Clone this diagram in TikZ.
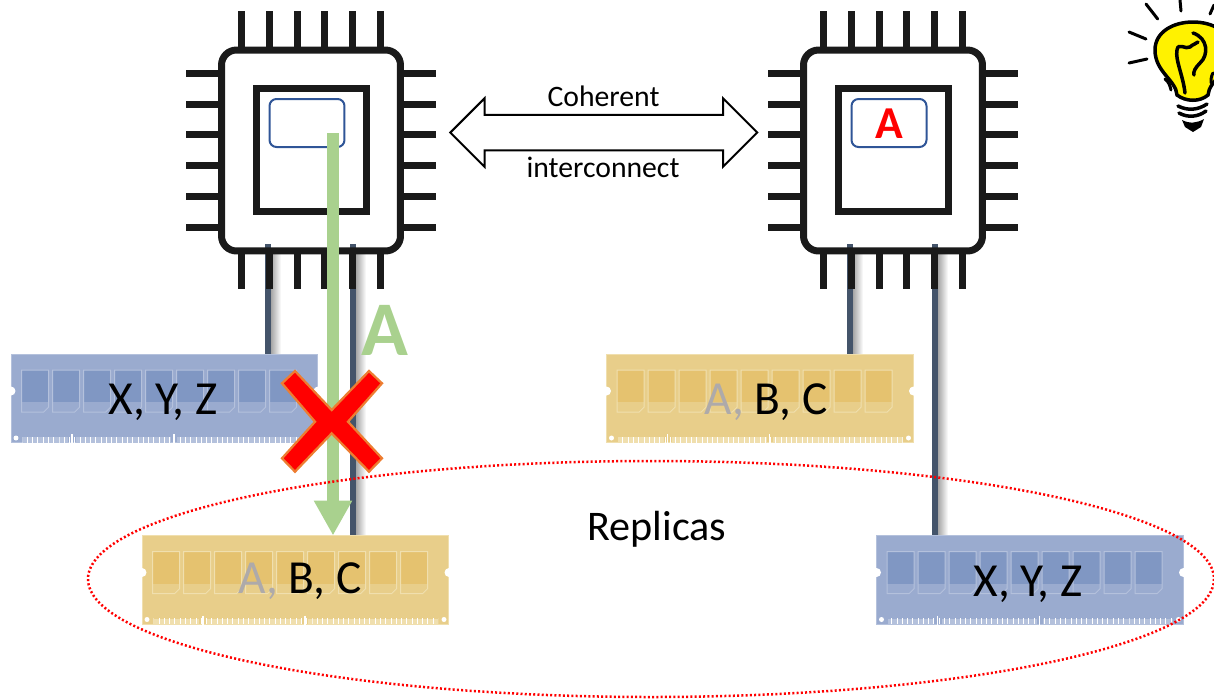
\documentclass[tikz,border=0pt]{standalone}
\usepackage{fontspec}
\setmainfont{Carlito}
\usepackage{tikz}
\usetikzlibrary{arrows.meta,backgrounds,shapes.arrows,patterns}
\definecolor{inkblack}{HTML}{1A1A1A}
\definecolor{cacheblue}{HTML}{2F5597}
\definecolor{busblue}{HTML}{44546A}
\definecolor{movegreen}{HTML}{A9D18E}
\definecolor{fadegrey}{HTML}{AEAAAA}
\definecolor{crossline}{HTML}{ED7D31}
\definecolor{bulbyellow}{HTML}{FFF200}
\definecolor{ramblue}{HTML}{9AABCF}
\definecolor{ramblueD}{HTML}{8097C3}
\definecolor{ramblueL}{HTML}{B4C1DC}
\definecolor{ramgold}{HTML}{E8CE8A}
\definecolor{ramgoldD}{HTML}{E5C26F}
\definecolor{ramgoldL}{HTML}{F0DFAE}
\tikzset{
    pin/.style={draw=inkblack,line width=.14cm},
    cpubody/.style={draw=inkblack,line width=.14cm,rounded corners=.3cm,minimum width=3.58cm,minimum height=4.02cm,inner sep=0,outer sep=0},
    cpudie/.style={draw=inkblack,line width=.14cm,minimum width=2.21cm,minimum height=2.47cm,inner sep=0,outer sep=0},
    cpucache/.style={draw=cacheblue,line width=.04cm,rounded corners=.14cm,minimum width=1.5cm,minimum height=.96cm,inner sep=0},
    bus/.style={draw=busblue,line width=.12cm},
    moved/.style={draw=movegreen,line width=.24cm,-{Triangle[length=.7cm,width=.72cm]}},
    ramstick/.style={anchor=north west,line width=.02cm,minimum width=6.14cm,minimum height=1.78cm,inner sep=0,outer sep=0},
    bigtext/.style={font=\fontsize{24}{28}\selectfont},
    ramtext/.style={font=\fontsize{27}{31}\selectfont},
    smalltext/.style={font=\fontsize{16.9}{20}\selectfont},
    ray/.style={draw=black,line width=.06cm,line cap=round}
}
% a cpu with its pins, moved to the right by #2
\newcommand{\cpu}[2]{
    \begin{scope}[shift={(#2,0)}]
        \node[cpubody] (cpu_#1) at (311,150.5) {};
        \node[cpudie] (die_#1) at (311.25,150.25) {};
        \node[cpucache] (cache_#1) at (307,123) {};
        \foreach \px in {241.7,269.3,297,324.7,352.7,380.3} {
            \draw[pin] (\px,11) -- (\px,47);
            \draw[pin] (\px,254) -- (\px,289);
        }
        \foreach \py in {73,104,134.7,165.7,196.3,227.3} {
            \draw[pin] (186,\py) -- (218,\py);
            \draw[pin] (404,\py) -- (436,\py);
        }
    \end{scope}
}
% a memory stick: name, top left corner, colour
\newcommand{\ramstick}[3]{
    \node[ramstick,fill=#3,draw=#3L] (#1) at (#2) {};
    \begin{scope}[shift={(#2)}]
        \foreach \n in {0,...,8} {
            \fill[#3D] (10.7+31*\n,16) rectangle (37.7+31*\n,48);
            \draw[#3L,line width=.02cm] (10.7+31*\n,16) -- (37.7+31*\n,16) -- (37.7+31*\n,53) -- (32.7+31*\n,58) -- (10.7+31*\n,58) -- cycle;
        }
        \fill[#3L] (11.7,83) rectangle (57,88);
        \fill[#3L] (65,83) rectangle (160,88);
        \fill[#3L] (166,83) rectangle (296,88);
        \fill[pattern=vertical lines,pattern color=white] (11.7,83) rectangle (296,88);
        \draw[white,line width=.03cm] (61,80) -- (61,89);
        \draw[white,line width=.03cm] (163,80) -- (163,89);
        \fill[white] (0,37) circle (.09cm);
        \fill[white] (307,37) circle (.09cm);
        \fill[white] (5,84) circle (.05cm);
        \fill[white] (302,84) circle (.05cm);
    \end{scope}
}
\begin{document}
\begin{tikzpicture}[x=.02cm,y=-.02cm]
    \useasboundingbox (0,0) rectangle (1214,698);
    \clip (0,0) rectangle (1214,698);
    %the two cpus
    \cpu{left}{0}
    \cpu{right}{582}
    %memory sticks
    \ramstick{ram_xyz}{11,354}{ramblue}
    \ramstick{ram_abc}{142,535.5}{ramgold}
    \ramstick{ram_abc2}{606.5,354}{ramgold}
    \ramstick{ram_xyz2}{876.5,535.5}{ramblue}
    %buses between cpus and memory
    \coordinate (bus_a) at (268,244);
    \coordinate (bus_b) at (353,244);
    \coordinate (bus_c) at (850,244);
    \coordinate (bus_d) at (935,244);
    \begin{pgfonlayer}{background}
        \shade[left color=black!35,right color=white] (271,254) rectangle (281,353);
        \shade[left color=black!35,right color=white] (356,254) rectangle (366,535);
        \shade[left color=black!35,right color=white] (853,254) rectangle (863,353);
        \shade[left color=black!35,right color=white] (938,254) rectangle (948,535);
        \draw[bus] (bus_a) -- (bus_a |- ram_xyz.north);
        \draw[bus] (bus_b) -- (bus_b |- ram_abc.north);
        \draw[bus] (bus_c) -- (bus_c |- ram_abc2.north);
        \draw[bus] (bus_d) -- (bus_d |- ram_xyz2.north);
    \end{pgfonlayer}
    %interconnect
    \node[double arrow,draw=black,fill=white,line width=.04cm,minimum height=6.14cm,double arrow head extend=.33cm,inner xsep=0,inner ysep=.335cm,outer sep=0] (link) at (603.8,132.5) {};
    \node[smalltext] (coherent) at (603.5,96) {Coherent};
    \node[smalltext] (interconnect) at (603,167) {interconnect};
    %the copied line
    \coordinate (move_top) at (333,133);
    \draw[moved] (move_top) -- (move_top |- ram_abc.north);
    \node[text=movegreen,font=\bfseries\fontsize{44}{48}\selectfont] (moved_a) at (385,330) {A};
    \node[text=red,font=\bfseries\fontsize{26}{30}\selectfont] (cached_a) at (889,124) {A};
    %labels of the sticks
    \node[ramtext] (label_xyz) at (163,402) {X, Y, Z};
    \node[ramtext] (label_abc) at (300,581) {\textcolor{fadegrey}{A,} B, C};
    \node[ramtext] (label_abc2) at (766,402) {\textcolor{fadegrey}{A,} B, C};
    \node[ramtext] (label_xyz2) at (1028,584) {X, Y, Z};
    \node[bigtext] (replicas) at (657,529) {Replicas};
    %the cross
    \draw[fill=red,draw=crossline,line width=.045cm] (282,383.3) -- (295,371) -- (331.7,410) -- (369,371) -- (382,383.3) -- (348,421.7) -- (382,458.3) -- (369,471.7) -- (331.7,433.3) -- (295,471.7) -- (282,458.3) -- (315,421.7) -- cycle;
    %replicas ring
    \draw[red,line width=.05cm,dash pattern=on .04cm off .045cm] (651,579) ellipse (563 and 118);
    %bulb
    \draw[ray] (1146,4) -- (1157.7,19);
    \draw[ray] (1180,0) -- (1181,11);
    \draw[ray] (1129,32) -- (1146,39);
    \draw[ray] (1129,63) -- (1147,59);
    \draw[ray] (1214,5) -- (1210,14);
    \draw[fill=bulbyellow,draw=black,line width=.07cm] (1177,95) .. controls (1176,80) and (1155,72) .. (1155,50) .. controls (1155,32) and (1173,22) .. (1193,22) .. controls (1213,22) and (1231,32) .. (1231,50) .. controls (1231,72) and (1209,80) .. (1208,95) .. controls (1200,102) and (1186,102) .. (1177,95) -- cycle;
    \draw[black,line width=.07cm,line cap=round] (1185,93) .. controls (1183,75) and (1175,60) .. (1177,50) .. controls (1178,42) and (1186,50) .. (1190,47) .. controls (1193,44) and (1196,44) .. (1198,42);
    \draw[black,line width=.07cm,line cap=round] (1193,33) .. controls (1208,38) and (1209,55) .. (1200,63) .. controls (1195,68) and (1193,72) .. (1194,75);
    \draw[ray] (1165,79) .. controls (1169,82) and (1170,86) .. (1171,90);
    \draw[ray] (1213,73) .. controls (1211,76) and (1211,80) .. (1211,83);
    \draw[black,line width=.07cm,line cap=round] (1178,106) .. controls (1188,111) and (1198,110) .. (1207,104);
    \draw[black,line width=.07cm,line cap=round] (1179,113) .. controls (1188,118) and (1198,117) .. (1206,111);
    \fill[black] (1182,120) .. controls (1190,124) and (1197,123) .. (1204,119) -- (1201,127) -- (1193,132) -- (1185,127) -- cycle;
\end{tikzpicture}
\end{document}
